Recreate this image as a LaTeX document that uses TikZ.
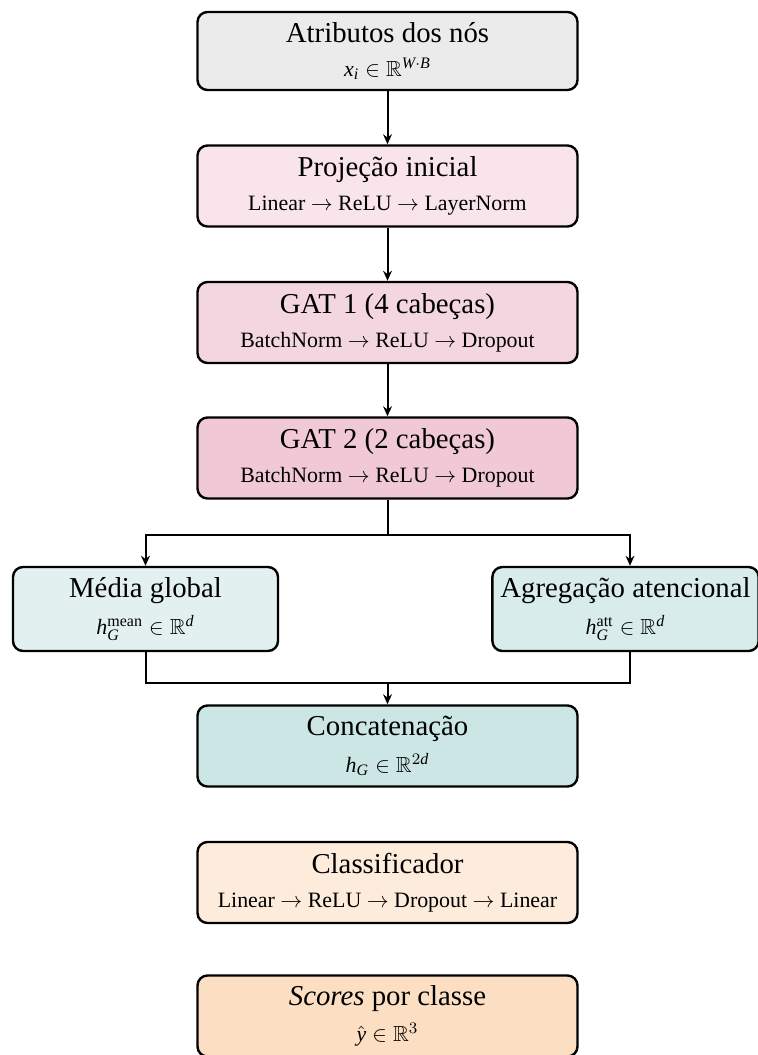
\documentclass[tikz,border=0pt]{standalone}
\usepackage{amssymb}
\usepackage{fontspec}
\setmainfont{Liberation Serif}
\usetikzlibrary{arrows.meta,positioning,calc}

\definecolor{cInput}{HTML}{EBEBEB}
\definecolor{cProj}{HTML}{F8E4EA}
\definecolor{cGatA}{HTML}{F4D6E0}
\definecolor{cGatB}{HTML}{F0C8D6}
\definecolor{cMean}{HTML}{E3F0F0}
\definecolor{cAtt}{HTML}{D9ECEC}
\definecolor{cCat}{HTML}{CCE6E6}
\definecolor{cCls}{HTML}{FDEBDB}
\definecolor{cOut}{HTML}{FCDFC2}

\newcommand{\ttl}{\fontsize{14.4}{17}\selectfont}
\newcommand{\sbt}{\fontsize{10.95}{13}\selectfont}
% italic letters set in the text face
\newcommand{\vi}[1]{\mathit{#1}}

\tikzset{
  blockbox/.style={draw=black, line width=1.2pt, rounded corners=5pt,
    minimum width=190pt, minimum height=40.5pt, align=center, inner sep=4pt},
  sidebox/.style={blockbox, minimum width=132.5pt, minimum height=42pt},
  flow/.style={line width=1pt, -{Stealth[length=5pt,width=4.4pt]}},
  wire/.style={line width=1pt}
}

\begin{document}
\begin{tikzpicture}[x=0.5pt,y=-0.5pt]
\useasboundingbox (0,0) rectangle (757,1055);

% main column
\node[blockbox, fill=cInput, minimum height=39pt] (inp) at (387.5,51)
  {{\ttl Atributos dos nós}\\[5pt]{\sbt $\vi{x}_{\vi{i}} \in \mathbb{R}^{\vi{W}\cdot \vi{B}}$}};
\node[blockbox, fill=cProj] (proj) at (387.5,186)
  {{\ttl Projeção inicial}\\[5pt]{\sbt Linear $\rightarrow$ ReLU $\rightarrow$ LayerNorm}};
\node[blockbox, fill=cGatA] (gat1) at (387.5,322.5)
  {{\ttl GAT 1 (4 cabeças)}\\[5pt]{\sbt BatchNorm $\rightarrow$ ReLU $\rightarrow$ Dropout}};
\node[blockbox, fill=cGatB] (gat2) at (387.5,458)
  {{\ttl GAT 2 (2 cabeças)}\\[5pt]{\sbt BatchNorm $\rightarrow$ ReLU $\rightarrow$ Dropout}};

% readout branches
\node[sidebox, fill=cMean] (mean) at (145.5,609)
  {{\ttl Média global}\\[5pt]{\sbt $\vi{h}_{\vi{G}}^{\mathrm{mean}} \in \mathbb{R}^{\vi{d}}$}};
\node[sidebox, fill=cAtt] (att) at (625.5,609)
  {{\ttl Agregação atencional}\\[5pt]{\sbt $\vi{h}_{\vi{G}}^{\mathrm{att}} \in \mathbb{R}^{\vi{d}}$}};

\node[blockbox, fill=cCat] (cat) at (387.5,746)
  {{\ttl Concatenação}\\[5pt]{\sbt $\vi{h}_{\vi{G}} \in \mathbb{R}^{2\vi{d}}$}};
\node[blockbox, fill=cCls] (cls) at (387.5,882.5)
  {{\ttl Classificador}\\[5pt]{\sbt Linear $\rightarrow$ ReLU $\rightarrow$ Dropout $\rightarrow$ Linear}};
\node[blockbox, fill=cOut] (out) at (387.5,1016)
  {{\ttl \textit{Scores} por classe}\\[5pt]{\sbt $\hat{\vi{y}} \in \mathbb{R}^{3}$}};

% connectors
\draw[flow] (inp.south) -- (proj.north);
\draw[flow] (proj.south) -- (gat1.north);
\draw[flow] (gat1.south) -- (gat2.north);

\coordinate (split) at (387.5,535);
\coordinate (attin) at (630,535);
\draw[wire] (gat2.south) -- (split);
\draw[flow] (split) -| (mean.north);
\draw[flow] (split) -- (attin) -- (attin |- att.north);

\coordinate (merge) at (387.5,683);
\coordinate (attout) at (630,683);
\draw[wire] (mean.south) |- (merge) -- (attout) -- (attout |- att.south);
\draw[flow] (merge) -- (cat.north);
\end{tikzpicture}
\end{document}
